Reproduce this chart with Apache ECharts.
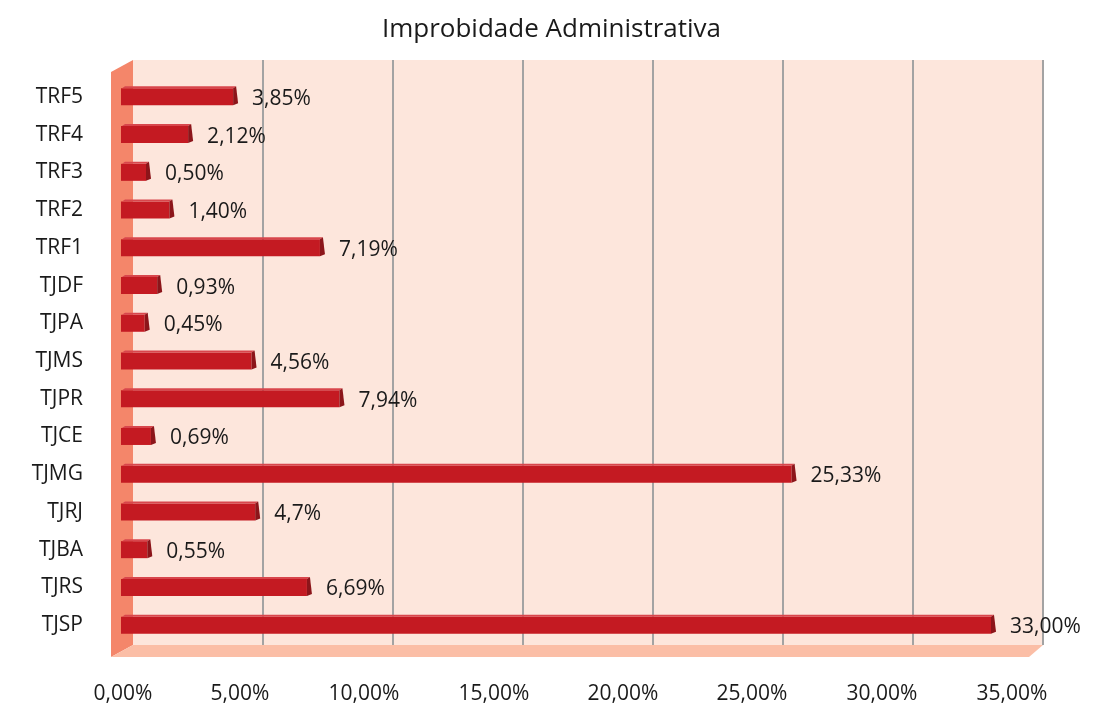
<!DOCTYPE html>
<html>
<head>
<meta charset="utf-8">
<script src="https://cdn.jsdelivr.net/npm/echarts@6/dist/echarts.min.js"></script>
<style>
  html, body { margin: 0; padding: 0; background: #fff; }
  #chart { width: 1103px; height: 708px; }
</style>
</head>
<body>
<div id="chart"></div>
<script>
// categories, top to bottom
const categories = ['TRF5', 'TRF4', 'TRF3', 'TRF2', 'TRF1', 'TJDF', 'TJPA', 'TJMS', 'TJPR', 'TJCE', 'TJMG', 'TJRJ', 'TJBA', 'TJRS', 'TJSP']
const values = [3.85, 2.12, 0.50, 1.40, 7.19, 0.93, 0.45, 4.56, 7.94, 0.69, 25.33, 4.7, 0.55, 6.69, 33.00]
const valueLabels = ['3,85%', '2,12%', '0,50%', '1,40%', '7,19%', '0,93%', '0,45%', '4,56%', '7,94%', '0,69%', '25,33%', '4,7%', '0,55%', '6,69%', '33,00%']
const xTickLabels = ['0,00%', '5,00%', '10,00%', '15,00%', '20,00%', '25,00%', '30,00%', '35,00%']

const FONT = '"Open Sans", "Noto Sans", sans-serif'
// deslocamento dos rótulos do eixo x (efeito de perspectiva do original)
const tickNudge = [10, 23, 29, 29, 30, 31, 31, 31]
const tickRich = {}
tickNudge.forEach((n, i) => {
  tickRich['t' + i] = { padding: [0, n * 2, 0, 0], fontFamily: FONT, fontSize: 21, color: '#1a1a1a' }
})

const chart = echarts.init(document.getElementById('chart'))

// barra "3D": face frontal, topo claro e ponta escura
const renderBar = (params, api) => {
  const idx = api.value(1)
  const end = api.coord([api.value(0), idx])
  const start = api.coord([0, idx])
  const h = 17
  const x0 = start[0] - 12
  const x1 = end[0]
  const y = end[1]
  return {
    type: 'group',
    children: [
      { type: 'rect', shape: { x: x0, y: y - h / 2, width: x1 - x0, height: h }, style: { fill: '#c41a22' } },
      { type: 'polygon', shape: { points: [[x0 + 1, y - h / 2], [x1, y - h / 2], [x1 + 3, y - h / 2 - 2], [x0 + 4, y - h / 2 - 2]] }, style: { fill: '#d8464c' } },
      { type: 'polygon', shape: { points: [[x1, y - h / 2], [x1 + 3, y - h / 2 - 2], [x1 + 5, y + h / 2 - 2], [x1, y + h / 2]] }, style: { fill: '#8c151a' } },
      { type: 'text', style: { text: valueLabels[idx], x: x1 + 19, y: y + 2, verticalAlign: 'middle', font: '21px ' + FONT, fill: '#1a1a1a' } }
    ]
  }
}

chart.setOption({
  animation: false,
  backgroundColor: '#ffffff',
  title: {
    text: 'Improbidade Administrativa',
    left: 'center',
    top: 12,
    textStyle: { fontFamily: FONT, fontSize: 26, fontWeight: 'normal', color: '#1a1a1a' }
  },
  grid: [
    // barras
    { left: 133, right: 60, top: 78, bottom: 64 },
    // parede do fundo + linhas de grade
    { left: 133, right: 60, top: 60, bottom: 63, show: true, backgroundColor: '#fde6dc', borderWidth: 0 }
  ],
  graphic: [
    // parede lateral
    { type: 'polygon', z: 1, shape: { points: [[111, 72], [133, 60], [133, 645], [111, 657]] }, style: { fill: '#f4866a' } },
    // piso
    { type: 'polygon', z: 1, shape: { points: [[133, 645], [1043, 645], [1029, 657], [111, 657]] }, style: { fill: '#fbbea6' } }
  ],
  xAxis: [
    { gridIndex: 0, type: 'value', min: 0, max: 35, show: false },
    {
      gridIndex: 1,
      type: 'value',
      min: 0,
      max: 35,
      interval: 5,
      axisLine: { show: false },
      axisTick: { show: false },
      splitLine: { show: true, showMinLine: false, lineStyle: { color: '#a3a3a3', width: 2 } },
      axisLabel: {
        margin: 39,
        fontFamily: FONT,
        fontSize: 21,
        color: '#1a1a1a',
        rich: tickRich,
        formatter: (v) => {
          const i = Math.round(v / 5)
          return '{t' + i + '|' + xTickLabels[i] + '}'
        }
      }
    }
  ],
  yAxis: [
    {
      gridIndex: 0,
      type: 'category',
      inverse: true,
      data: categories,
      axisLine: { show: false },
      axisTick: { show: false },
      axisLabel: { margin: 50, fontFamily: FONT, fontSize: 21, color: '#1a1a1a' }
    },
    { gridIndex: 1, type: 'value', show: false }
  ],
  series: [
    {
      type: 'custom',
      xAxisIndex: 0,
      yAxisIndex: 0,
      z: 5,
      renderItem: renderBar,
      encode: { x: 0, y: 1 },
      data: values.map((v, i) => [v, i])
    }
  ]
})
</script>
</body>
</html>
